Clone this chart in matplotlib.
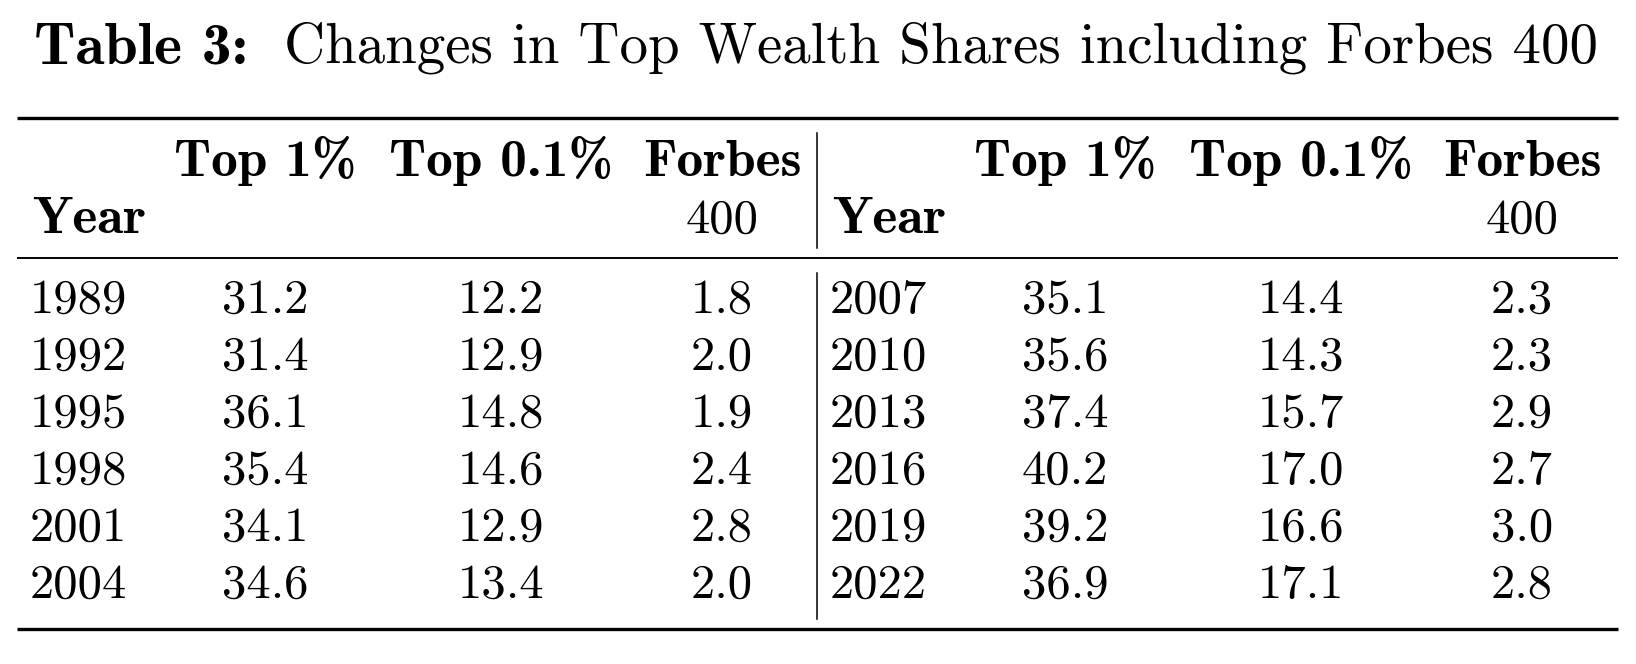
"""
Table 3 from the wealth paper, redrawn as a matplotlib figure.
"""

import matplotlib.pyplot as plt

years_left = [1989, 1992, 1995, 1998, 2001, 2004]
top1_left = [31.2, 31.4, 36.1, 35.4, 34.1, 34.6]
top01_left = [12.2, 12.9, 14.8, 14.6, 12.9, 13.4]
forbes_left = [1.8, 2.0, 1.9, 2.4, 2.8, 2.0]

years_right = [2007, 2010, 2013, 2016, 2019, 2022]
top1_right = [35.1, 35.6, 37.4, 40.2, 39.2, 36.9]
top01_right = [14.4, 14.3, 15.7, 17.0, 16.6, 17.1]
forbes_right = [2.3, 2.3, 2.9, 2.7, 3.0, 2.8]

col_heads = ['Top 1%', 'Top 0.1%', 'Forbes']
title_bold = 'Table 3:'
title_rest = 'Changes in Top Wealth Shares including Forbes 400'

W, H = 1636, 664
FS = 35
FSB = 38.5   # cmb10 is narrower than LaTeX's bold extended, so bump it
REG = 'cmr10'
BOLD = 'cmb10'

fig = plt.figure(figsize=(W / 100, H / 100), dpi=100)
ax = fig.add_axes([0, 0, 1, 1])
ax.set_xlim(0, W)
ax.set_ylim(H, 0)
ax.axis('off')

# title: bold label then regular text, sized to span the table width
ts = 41
t1 = ax.text(34, 63, title_bold, fontsize=ts + 2, family=BOLD, va='baseline')
t2 = ax.text(0, 63, title_rest, fontsize=ts, family=REG, va='baseline')
fig.canvas.draw()
r = fig.canvas.get_renderer()
w1 = t1.get_window_extent(r).width
w2 = t2.get_window_extent(r).width
gap = 36
scale = (1598 - 34 - gap) / (w1 + w2)
t1.set_fontsize((ts + 2) * scale)
t2.set_fontsize(ts * scale)
t2.set_x(34 + w1 * scale + gap)

# rules
ax.plot([17, 1618], [118, 118], color='black', lw=2.4, solid_capstyle='butt')
ax.plot([17, 1618], [258, 258], color='black', lw=1.4, solid_capstyle='butt')
ax.plot([17, 1618], [629, 629], color='black', lw=2.4, solid_capstyle='butt')
ax.plot([817, 817], [133, 248], color='black', lw=1.1)
ax.plot([817, 817], [273, 619], color='black', lw=1.1)

offsets = [235, 471, 692]


def draw_half(x0, years, top1, top01, forbes):
    # header
    for off, head in zip(offsets, col_heads):
        ax.text(x0 + off, 176, head, fontsize=FSB, family=BOLD,
                ha='center', va='baseline')
    ax.text(x0 + 2, 233, 'Year', fontsize=FSB, family=BOLD, va='baseline')
    ax.text(x0 + offsets[2], 233, '400', fontsize=FS, family=REG,
            ha='center', va='baseline')
    # rows
    for i, (yr, a, b, c) in enumerate(zip(years, top1, top01, forbes)):
        y = 313 + i * 57
        ax.text(x0, y, str(yr), fontsize=FS, family=REG, va='baseline')
        for off, v in zip(offsets, (a, b, c)):
            ax.text(x0 + off, y, f'{v:.1f}', fontsize=FS, family=REG,
                    ha='center', va='baseline')


draw_half(30, years_left, top1_left, top01_left, forbes_left)
draw_half(830, years_right, top1_right, top01_right, forbes_right)

fig.savefig('out.png', dpi=100, facecolor='white')
